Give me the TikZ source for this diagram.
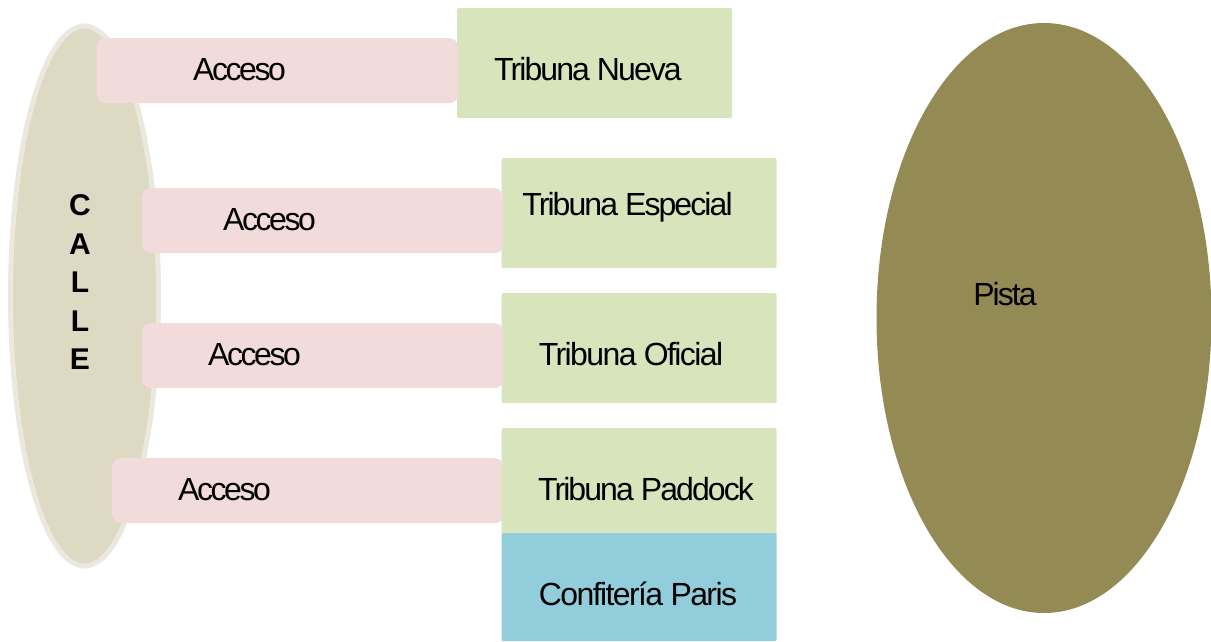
\documentclass[tikz,border=0pt]{standalone}
\usepackage{fontspec}
\setmainfont{Liberation Sans}
\newfontfamily\tightfont[LetterSpace=-6]{Liberation Sans}
\newfontfamily\tighterfont[LetterSpace=-7.5]{Liberation Sans}
\newfontfamily\looserfont[LetterSpace=-5]{Liberation Sans}
\usetikzlibrary{shapes.geometric}
\definecolor{callefill}{HTML}{DDD9C3}
\definecolor{calleline}{HTML}{EBE9DD}
\definecolor{accfill}{HTML}{F2DCDB}
\definecolor{tribfill}{HTML}{D8E4BC}
\definecolor{conffill}{HTML}{92CDDC}
\definecolor{pistafill}{HTML}{948A54}
\begin{document}
\begin{tikzpicture}[x=1pt,y=-1pt,
 lbl/.style={font=\tightfont\fontsize{32}{34}\selectfont,inner sep=0,text=black,anchor=base},
 lbltight/.style={lbl,font=\tighterfont\fontsize{32}{34}\selectfont},
 lblloose/.style={lbl,font=\looserfont\fontsize{32}{34}\selectfont},
 tribuna/.style={fill=tribfill,draw=none,rounded corners=1.5pt,anchor=north west,minimum width=275pt,minimum height=110pt,inner sep=0},
 acceso/.style={fill=accfill,draw=none,rounded corners=9pt,anchor=north west,minimum height=65pt,inner sep=0}]
\useasboundingbox (0,0) rectangle (1211,641);
\node[ellipse,fill=callefill,draw=calleline,line width=5pt,minimum width=148pt,minimum height=540pt,inner sep=0] (calle) at (84.5,296) {};
\node[font=\fontsize{30}{38.5}\selectfont\bfseries,align=center,inner sep=0] (callet) at (80,282.5) {C\\A\\L\\L\\E};
\node[ellipse,fill=pistafill,minimum width=335pt,minimum height=590pt,inner sep=0] (pista) at (1044,318) {};
\node[lbl] (pistat) at (1005,305) {Pista};
\node[acceso,minimum width=392pt] (a4) at (111.7,458) {};
\node[tribuna] (t1) at (457,8) {};
\node[tribuna] (t2) at (501.5,158) {};
\node[tribuna] (t3) at (501.5,293) {};
\node[tribuna,minimum height=108pt] (t4) at (501.5,428) {};
\node[fill=conffill,rounded corners=1.5pt,anchor=north west,minimum width=275pt,minimum height=108pt,inner sep=0] (t5) at (501.5,533) {};
\node[acceso,minimum width=361.5pt] (a1) at (96.5,38) {};
\node[acceso,minimum width=361.5pt] (a2) at (141.7,188) {};
\node[acceso,minimum width=361.5pt] (a3) at (141.7,323) {};
\node[lbltight] (a1t) at (239.5,80) {Acceso};
\node[lbltight] (a2t) at (269.5,230) {Acceso};
\node[lbltight] (a3t) at (254.5,365) {Acceso};
\node[lbltight] (a4t) at (224.5,500) {Acceso};
\node[lbl] (t1t) at (588,80) {Tribuna Nueva};
\node[lbl] (t2t) at (627.5,215) {Tribuna Especial};
\node[lblloose] (t3t) at (631,365) {Tribuna Oficial};
\node[lbl] (t4t) at (646,500) {Tribuna Paddock};
\node[lblloose] (t5t) at (638,605) {Confitería Paris};
\end{tikzpicture}
\end{document}
